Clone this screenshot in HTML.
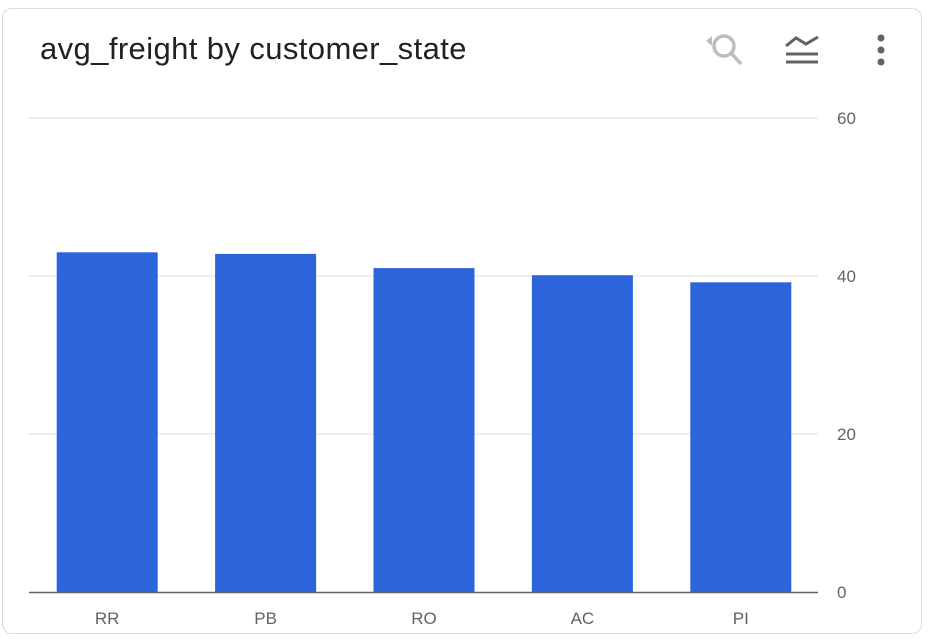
<!DOCTYPE html>
<html><head><meta charset="utf-8"><style>
html,body{margin:0;padding:0;background:#fff;width:934px;height:642px;overflow:hidden;font-family:"Liberation Sans",Roboto,sans-serif}
.card{position:absolute;left:2px;top:8px;width:918px;height:624px;border:1px solid #dadce0;border-radius:10px;background:#fff}
.title{position:absolute;left:40px;top:31px;font-size:31px;letter-spacing:0.4px;color:#202124}
</style></head><body>
<div class="card"></div>
<div class="title">avg_freight by customer_state</div>
<svg width="934" height="642" style="position:absolute;left:0;top:0">
 <g fill="none" stroke="#bdbdbd" stroke-width="3.5">
  <circle cx="724" cy="46" r="10"/><line x1="731" y1="53" x2="741" y2="64"/>
  <path d="M706 41 l6 -5 l0 10 z" fill="#bdbdbd" stroke="none"/>
 </g>
 <g stroke="#5f6368" stroke-width="3" fill="none">
  <polyline points="786,46 796,38 806,44 818,37"/>
  <line x1="786" y1="54" x2="818" y2="54"/><line x1="786" y1="62" x2="818" y2="62"/>
 </g>
 <g fill="#5f6368">
  <circle cx="881" cy="38" r="3.5"/><circle cx="881" cy="50" r="3.5"/><circle cx="881" cy="62" r="3.5"/>
 </g>
 <g id="plot"></g>
</svg>
<script>
const categories=["RR","PB","RO","AC","PI"];
const values=[43.0,42.8,41.0,40.1,39.2];
const ticks=[0,20,40,60];
const x0=28,x1=820,yBase=592,yTop=118,yMax=60;
const y=v=>yBase-(v/yMax)*(yBase-yTop);
const step=(x1-x0)/categories.length,bw=101;
const g=document.getElementById('plot');
const ns="http://www.w3.org/2000/svg";
function mk(t,a){const e=document.createElementNS(ns,t);for(const k in a)e.setAttribute(k,a[k]);g.appendChild(e);return e;}
ticks.forEach(t=>{
 if(t>0){const l=mk('line',{x1:29,x2:818,y1:y(t),y2:y(t),stroke:'#dadce0','stroke-width':1});
 
 }
 const tx=mk('text',{x:837,y:y(t)+6,'font-size':17,fill:'#5f6368','font-family':'Liberation Sans,sans-serif'});
 tx.textContent=t;
 
 
});
categories.forEach((c,i)=>{
 const cx=x0+step*(i+0.5);
 const r=mk('rect',{x:cx-bw/2,y:y(values[i]),width:bw,height:yBase-y(values[i]),fill:'#2c65db'});
 
 
 const tx=mk('text',{x:cx,y:624,'font-size':17,fill:'#5f6368','text-anchor':'middle','font-family':'Liberation Sans,sans-serif'});
 tx.textContent=c;
 
 
});
const ax=mk('line',{x1:29,x2:818,y1:yBase+0.5,y2:yBase+0.5,stroke:'#5f6368','stroke-width':1.5});


</script>
</body></html>
